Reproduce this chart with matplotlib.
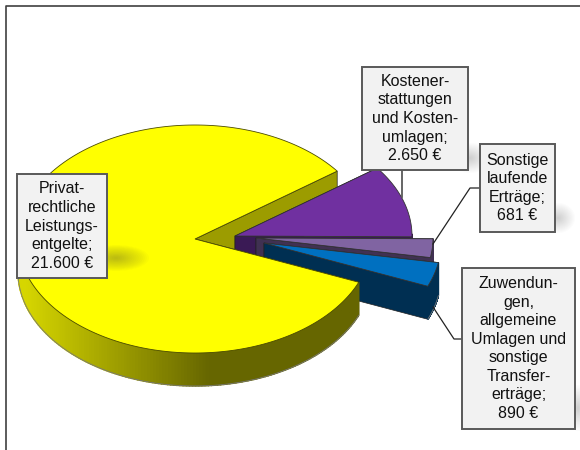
import numpy as np
import matplotlib
matplotlib.use('Agg')
import matplotlib.pyplot as plt
from matplotlib.patches import Polygon, Rectangle, Ellipse

plt.rcParams['font.family'] = ['Liberation Sans', 'DejaVu Sans']

# data
categories = ['Privat-\nrechtliche\nLeistungs-\nentgelte;',
              'Kostener-\nstattungen\nund Kosten-\numlagen;',
              'Sonstige\nlaufende\nErträge;',
              'Zuwendun-\ngen,\nallgemeine\nUmlagen und\nsonstige\nTransfer-\nerträge;']
values = [21600, 2650, 681, 890]
value_labels = ['21.600 €', '2.650 €', '681 €', '890 €']

# layout in pixels
rx, ry, depth = 177, 114, 33
start_angle = 337.7
centers = [(195, 239), (235, 236), (256, 238), (264, 243)]
top_colors = ['#ffff00', '#7030a0', '#8064a2', '#0070c0']
side_colors = ['#9c9c00', '#3a1a55', '#403152', '#002f52']
zorders = [5, 2, 3, 4]
boxes = [(17, 174, 90, 104), (362, 67, 106, 103), (480, 144, 75, 88), (462, 268, 113, 161)]
leaders = [None, [(402, 170), (402, 197)],
           [(480, 188), (470, 188), (433, 244)],
           [(462, 339), (454, 339), (433, 307)]]
shadows = [(116, 258, 66, 26), (470, 158, 40, 30), (558, 218, 34, 30), (578, 408, 24, 46)]

fig = plt.figure(figsize=(5.8, 4.5), dpi=100)
ax = fig.add_axes([0, 0, 1, 1])
ax.set_xlim(0, 580)
ax.set_ylim(450, 0)
ax.axis('off')

# chart frame, only left and top show
ax.plot([5.5, 5.5, 580], [450, 5.5, 5.5], color='#404040', lw=1.2)


def rim(c, a0, a1, n=300):
    t = np.radians(np.linspace(a0, a1, n))
    return np.column_stack([c[0] + rx * np.cos(t), c[1] - ry * np.sin(t)])


def draw_slice(c, a0, a1, top, side, z, yellow=False):
    # a0 > a1, clockwise from a0 to a1
    p = rim(c, a0, a1)
    c = np.array(c, float)
    drop = np.array([0, depth])
    # cut walls, the upper one of the big slice lies behind the others
    ax.add_patch(Polygon([c, p[0], p[0] + drop, c + drop], fc=side, ec='#222222', lw=0.5, zorder=z))
    ax.add_patch(Polygon([c, p[-1], p[-1] + drop, c + drop], fc=side, ec='#222222', lw=0.5,
                         zorder=0.5 if yellow else z))
    # outer wall, only the part facing the viewer
    t = np.linspace(a0, a1, 300)
    q = p[np.sin(np.radians(t)) < 0.02]
    for i in range(len(q) - 1):
        col = side
        if yellow:
            # rim gets darker up to the middle of the pie
            f = np.clip((q[i][0] - 25) / 185, 0, 1)
            g = 0.84 - 0.44 * f
            col = (g, g, 0)
        ax.add_patch(Polygon([q[i], q[i + 1], q[i + 1] + drop, q[i] + drop], fc=col, ec=col, lw=1.0, zorder=z))
    if len(q):
        ax.plot(q[:, 0], q[:, 1] + depth, color='#777777', lw=0.6, zorder=z)
    ax.add_patch(Polygon(np.vstack([c, p]), fc=top, ec='#4a4a00' if yellow else '#333333', lw=0.6, zorder=z + 0.5))


total = sum(values)
a = start_angle
for i in range(len(values)):
    sweep = values[i] / total * 360
    draw_slice(centers[i], a, a - sweep, top_colors[i], side_colors[i], zorders[i], yellow=i == 0)
    a -= sweep

# soft shadows of the label boxes
for sx, sy, sw, sh in shadows:
    for k in range(16):
        s = 1 - k / 16
        ax.add_patch(Ellipse((sx, sy), sw * s, sh * s, fc='#444444', alpha=0.025 if sy == 258 else 0.016,
                             ec='none', zorder=6 if sy == 258 else 1))

# labels
for i in range(len(categories)):
    x, y, w, h = boxes[i]
    ax.add_patch(Rectangle((x, y), w, h, fc='#f2f2f2', ec='#595959', lw=1.4, zorder=10))
    ax.text(x + w / 2, y + h / 2, categories[i] + '\n' + value_labels[i], ha='center', va='center',
            fontsize=11.5, linespacing=1.3, color='#111111', zorder=11)
    if leaders[i] is not None:
        xs, ys = zip(*leaders[i])
        ax.plot(xs, ys, color='#595959' if i == 1 else '#222222', lw=1.3 if i == 1 else 0.9, zorder=8)

fig.savefig('out.png', dpi=100)
